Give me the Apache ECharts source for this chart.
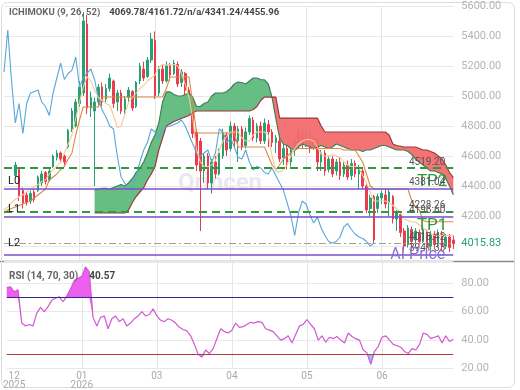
<!DOCTYPE html>
<html>
<head>
<meta charset="utf-8">
<script src="https://cdn.jsdelivr.net/npm/echarts@6.0.0/dist/echarts.min.js"></script>
<style>
html, body { margin: 0; padding: 0; background: #fff; }
#chart { width: 520px; height: 390px; }
</style>
</head>
<body>
<div id="chart"></div>
<script>
// x axis: one slot per session, month labels only at a few slots
const monthTicks = [2, 20, 40, 60, 80, 100]
const monthLabels = ['12\n2025', '01\n2026', '03', '04', '05', '06']

// candles (first 3 slots empty)
const opens = [
  null, null, null, 4470, 4510, 4370, 4340, 4300, 4360, 4370,
  4420, 4490, 4440, 4530, 4590, 4620, 4600, 4660, 4780, 4800,
  4950, 5020, 5480, 4920, 4900, 4960, 5060, 4980, 5050, 5100,
  4960, 5020, 4910, 4990, 5030, 4930, 5100, 5180, 5130, 5240,
  5370, 5020, 5180, 5100, 5200, 5150, 5210, 5090, 5150, 5040,
  4960, 4760, 4700, 4500, 4600, 4420, 4560, 4480, 4600, 4740,
  4650, 4800, 4700, 4780, 4670, 4760, 4840, 4720, 4800, 4700,
  4810, 4760, 4690, 4700, 4590, 4650, 4560, 4640, 4690, 4750,
  4680, 4740, 4660, 4700, 4560, 4620, 4510, 4580, 4500, 4560,
  4480, 4540, 4470, 4550, 4480, 4500, 4400, 4250, 4330, 4250,
  4320, 4340, 4290, 4330, 4180, 4210, 4100, 4010, 4110, 4040,
  4090, 4030, 4100, 4000, 4080, 4020, 4080, 4000, 4060, 4040
]
const closes = [
  null, null, null, 4540, 4330, 4290, 4290, 4350, 4310, 4460,
  4480, 4430, 4500, 4600, 4620, 4580, 4560, 4770, 4900, 4960,
  5060, 5500, 4920, 4990, 4960, 5060, 4960, 5050, 5120, 4950,
  5020, 4900, 4980, 5040, 4920, 5090, 5200, 5120, 5240, 5380,
  5000, 5180, 5100, 5200, 5140, 5220, 5080, 5160, 5040, 4960,
  4750, 4540, 4500, 4600, 4420, 4560, 4480, 4620, 4750, 4640,
  4800, 4700, 4780, 4660, 4760, 4850, 4720, 4800, 4700, 4820,
  4760, 4690, 4720, 4580, 4650, 4560, 4640, 4700, 4760, 4680,
  4740, 4650, 4720, 4560, 4620, 4500, 4580, 4480, 4560, 4470,
  4540, 4460, 4550, 4480, 4520, 4400, 4240, 4320, 4040, 4330,
  4350, 4280, 4360, 4180, 4220, 4090, 4000, 4120, 4030, 4100,
  4030, 4110, 3990, 4080, 4010, 4090, 4000, 4060, 3990, 4015.83
]
const lows = [
  null, null, null, 4450, 4300, 4250, 4270, 4280, 4290, 4360,
  4400, 4410, 4430, 4520, 4570, 4560, 4540, 4650, 4760, 4790,
  4930, 5000, 4880, 4860, 4400, 4940, 4930, 4960, 5030, 4920,
  4900, 4880, 4870, 4950, 4900, 4920, 5080, 5100, 5120, 5220,
  4980, 5000, 5080, 5090, 5100, 5140, 5060, 5060, 5000, 4930,
  4720, 4500, 4100, 4420, 4380, 4350, 4450, 4470, 4580, 4600,
  4630, 4660, 4560, 4640, 4650, 4740, 4700, 4690, 4680, 4680,
  4660, 4660, 4620, 4560, 4540, 4510, 4530, 4600, 4650, 4650,
  4660, 4620, 4640, 4500, 4500, 4470, 4490, 4460, 4470, 4440,
  4460, 4440, 4440, 4460, 4380, 4380, 4220, 4200, 4020, 4220,
  4280, 4250, 4200, 4150, 4100, 4060, 3970, 3990, 4000, 4010,
  4010, 4020, 3960, 3970, 3980, 3990, 3970, 3980, 3960, 3980
]
const highs = [
  null, null, null, 4560, 4520, 4390, 4360, 4370, 4380, 4470,
  4500, 4500, 4520, 4610, 4640, 4630, 4610, 4780, 4920, 4980,
  5100, 5560, 5540, 5030, 4990, 5080, 5090, 5080, 5150, 5110,
  5040, 5040, 5000, 5060, 5040, 5100, 5220, 5230, 5260, 5420,
  5430, 5200, 5210, 5230, 5220, 5240, 5230, 5180, 5160, 5060,
  4980, 4780, 4720, 4620, 4620, 4580, 4600, 4650, 4780, 4760,
  4830, 4820, 4800, 4800, 4790, 4870, 4860, 4820, 4830, 4850,
  4840, 4780, 4740, 4720, 4680, 4680, 4660, 4720, 4780, 4790,
  4770, 4760, 4740, 4720, 4640, 4640, 4600, 4600, 4580, 4590,
  4560, 4570, 4580, 4570, 4540, 4520, 4420, 4340, 4340, 4350,
  4370, 4380, 4380, 4340, 4240, 4230, 4120, 4140, 4130, 4120,
  4110, 4130, 4110, 4100, 4100, 4110, 4100, 4080, 4080, 4070
]

// ichimoku lines
const tenkan = [
  4240, 4260, 4290, 4310, 4330, 4340, 4360, 4380, 4395, 4410,
  4430, 4440, 4480, 4510, 4530, 4560, 4620, 4680, 4740, 4850,
  4960, 5060, 5130, 5100, 5040, 4990, 4970, 4950, 4940, 4870,
  4790, 4800, 4880, 4960, 4990, 5020, 5050, 5070, 5100, 5120,
  5140, 5190, 5210, 5210, 5210, 5210, 5200, 5150, 5080, 4990,
  4850, 4640, 4560, 4530, 4530, 4540, 4570, 4640, 4700, 4730,
  4760, 4760, 4760, 4720, 4700, 4700, 4740, 4760, 4760, 4760,
  4740, 4600, 4500, 4490, 4510, 4540, 4600, 4650, 4680, 4700,
  4710, 4710, 4700, 4660, 4610, 4600, 4600, 4610, 4600, 4590,
  4560, 4540, 4530, 4530, 4520, 4470, 4420, 4360, 4300, 4300,
  4300, 4300, 4290, 4270, 4250, 4220, 4180, 4170, 4160, 4160,
  4140, 4120, 4100, 4080, 4070, 4070, 4070, 4070, 4070, 4069.78
]
const kijun = [
  4220, 4240, 4250, 4260, 4270, 4280, 4290, 4300, 4320, 4340,
  4360, 4380, 4440, 4460, 4480, 4510, 4530, 4580, 4620, 4740,
  4840, 4927, 4927, 4927, 4927, 4927, 4993, 4993, 4993, 4993,
  4993, 4993, 4993, 4993, 4993, 4993, 4993, 4993, 4993, 4993,
  4993, 4993, 4993, 5050, 5127, 5127, 5127, 5127, 5127, 5127,
  4950, 4753, 4753, 4753, 4753, 4753, 4753, 4753, 4753, 4753,
  4753, 4753, 4660, 4660, 4660, 4660, 4660, 4660, 4660, 4660,
  4600, 4540, 4510, 4540, 4580, 4600, 4620, 4640, 4650, 4650,
  4650, 4650, 4650, 4650, 4650, 4650, 4650, 4650, 4650, 4650,
  4640, 4640, 4640, 4640, 4600, 4560, 4480, 4400, 4380, 4380,
  4380, 4380, 4380, 4380, 4380, 4380, 4380, 4380, 4300, 4260,
  4240, 4170, 4161.72, 4161.72, 4161.72, 4161.72, 4161.72, 4161.72, 4161.72, 4161.72
]
const chikou = [
  5160, 5440, 5100, 4820, 4950, 4750, 4950, 5020, 5030, 5040,
  4960, 4930, 4870, 5020, 5120, 5220, 5110, 5150, 5173, 5260,
  5060, 5120, 5153, 5180, 5110, 4980, 4907, 4860, 4800, 4780,
  4600, 4460, 4420, 4373, 4390, 4470, 4560, 4640, 4690, 4780,
  4760, 4727, 4770, 4793, 4800, 4810, 4820, 4840, 4800, 4740,
  4680, 4620, 4600, 4620, 4640, 4560, 4620, 4780, 4760, 4690,
  4720, 4660, 4590, 4580, 4640, 4560, 4507, 4530, 4520, 4490,
  4480, 4520, 4470, 4420, 4373, 4287, 4200, 4070, 4220, 4300,
  4280, 4210, 4153, 4193, 4120, 4070, 4030, 4020, 4030, 4060,
  4127, 4150, 4110, 4080, 4060, 4050, 4030, 4000, 4020
]
const spanA = [
  null, null, null, null, null, null, null, null, null, null,
  null, null, null, null, null, null, null, null, null, null,
  null, null, null, null, 4373, 4380, 4385, 4385, 4380, 4390,
  4400, 4410, 4400, 4420, 4450, 4490, 4520, 4560, 4620, 4690,
  4740, 4820, 4960, 5027, 5027, 5010, 5000, 5000, 5010, 5020,
  4990, 4930, 4930, 4950, 4960, 5000, 5020, 5020, 5020, 5030,
  5050, 5080, 5093, 5090, 5080, 5100, 5120, 5120, 5110, 5107,
  5080, 4990, 4850, 4720, 4680, 4670, 4650, 4640, 4660, 4680,
  4670, 4660, 4650, 4660, 4670, 4660, 4650, 4660, 4680, 4670,
  4660, 4650, 4640, 4640, 4640, 4630, 4640, 4640, 4650, 4660,
  4670, 4670, 4660, 4650, 4640, 4640, 4640, 4630, 4610, 4580,
  4560, 4540, 4520, 4500, 4500, 4490, 4480, 4450, 4400, 4341.24
]
const spanB = [
  null, null, null, null, null, null, null, null, null, null,
  null, null, null, null, null, null, null, null, null, null,
  null, null, null, null, 4220, 4220, 4220, 4220, 4220, 4220,
  4220, 4220, 4220, 4240, 4290, 4330, 4360, 4390, 4440, 4480,
  4530, 4640, 4720, 4800, 4815, 4830, 4840, 4850, 4860, 4870,
  4890, 4900, 4900, 4900, 4900, 4900, 4900, 4900, 4900, 4900,
  4900, 4900, 4900, 4900, 4900, 4900, 4910, 4930, 4970, 4993,
  4993, 4993, 4993, 4853, 4853, 4853, 4853, 4853, 4853, 4853,
  4853, 4853, 4853, 4853, 4800, 4760, 4760, 4760, 4760, 4760,
  4760, 4760, 4760, 4760, 4760, 4760, 4760, 4760, 4760, 4760,
  4760, 4760, 4740, 4680, 4670, 4665, 4660, 4660, 4660, 4660,
  4650, 4640, 4640, 4630, 4620, 4600, 4580, 4540, 4490, 4455.96
]

// rsi
const rsi = [
  77, 77.5, 74, 75.5, 52, 50, 51, 50, 59, 63,
  60, 63.5, 68, 69.5, 70.5, 67, 71, 76, 82, 83.5,
  85, 91.5, 88, 56, 50, 56, 57, 48, 55, 57,
  53, 55, 50, 52, 55, 57, 60, 57, 58, 62,
  57, 54, 53, 55, 54, 52, 49, 47.5, 46.5, 43,
  37, 30, 28, 33, 30.5, 34, 41, 48, 46, 45,
  47, 52, 49, 49.5, 51, 52.5, 52, 53, 52.5, 48,
  47, 46, 43, 40, 41, 43, 38, 44, 50, 51,
  54.5, 51, 48, 40, 43, 38.5, 42, 41, 42.5, 40,
  38, 45, 42.5, 41, 40, 33, 31, 23, 32, 35.5,
  42, 43, 40, 37, 36, 35, 32, 30.5, 34, 33,
  37, 45, 44, 41, 42, 43, 38, 43, 39, 40.57
]
const rsiUpper = 70
const rsiLower = 30

// level lines
const levelNames = ['TP2', 'L0', 'TP1', 'L1', 'L2', 'AI Price']
const levelValues = [4519.20, 4381.04, 4228.26, 4196.60, 4018.42, 3941.33]

const UP = '#26a172'
const DOWN = '#ec3a4f'
const LVL_GREEN = '#2e9a3c'
const LVL_PURPLE = '#7b4fcf'
const NO_LINE = { color: 'rgba(0,0,0,0)', width: 0 }

const n = closes.length
let cats = []
for (let i = 0; i < n; i++) {
  let k = monthTicks.indexOf(i)
  cats.push(k >= 0 ? monthLabels[k] : '')
}
const candles = opens.map((o, i) => o == null ? '-' : [o, closes[i], lows[i], highs[i]])
const cloudBase = spanA.map((a, i) => a == null ? '-' : Math.min(a, spanB[i]))
const cloudUp = spanA.map((a, i) => a == null ? '-' : Math.max(a - spanB[i], 0))
const cloudDown = spanA.map((a, i) => a == null ? '-' : Math.max(spanB[i] - a, 0))
const rsiBaseHi = rsi.map(v => Math.min(v, rsiUpper))
const rsiOver = rsi.map(v => Math.max(v - rsiUpper, 0))
const rsiBaseLo = rsi.map(v => Math.min(v, rsiLower))
const rsiUnder = rsi.map(v => rsiLower - Math.min(v, rsiLower))
const lastClose = closes[n - 1]

// build markLine items for the levels
let levelLines = []
levelNames.forEach((name, i) => {
  let v = levelValues[i]
  let ls = { color: LVL_PURPLE, width: 1.5, type: 'solid' }
  if (name.indexOf('TP') === 0) ls = { color: LVL_GREEN, width: 2, type: [8, 5] }
  if (name === 'L2') ls = { color: '#a0a0a0', width: 1.2, type: [7, 3, 2, 3] }
  levelLines.push({
    yAxis: v,
    lineStyle: ls,
    label: { show: true, position: 'insideEndTop', formatter: v.toFixed(2), color: '#555', fontSize: 10, distance: [8, 1] }
  })
  if (name.indexOf('TP') === 0) {
    levelLines.push({
      yAxis: v,
      lineStyle: NO_LINE,
      label: { show: true, position: 'insideEndBottom', formatter: name, color: LVL_GREEN, fontSize: 17, distance: [6, 5] }
    })
  } else if (name === 'AI Price') {
    levelLines.push({
      yAxis: v,
      lineStyle: NO_LINE,
      label: { show: true, position: 'insideEnd', formatter: name, color: '#8a6fd6', fontSize: 16, distance: [8, 0] }
    })
  } else {
    levelLines.push({
      yAxis: v,
      lineStyle: NO_LINE,
      label: { show: true, position: name === 'L2' ? 'insideStart' : 'insideStartTop', formatter: name, color: '#222', fontSize: 11, distance: [4, 2] }
    })
  }
})
// current price tag on the axis
levelLines.push({
  yAxis: lastClose,
  lineStyle: NO_LINE,
  label: { show: true, position: 'end', formatter: lastClose.toFixed(2), color: UP, fontSize: 11, distance: 8 }
})

const gridLine = { show: true, lineStyle: { color: '#e8e8e8', width: 1 } }
const monthGrid = (i) => monthTicks.indexOf(i) > 0

let option = {
  animation: false,
  textStyle: { fontFamily: 'Roboto, sans-serif' },
  title: [
    {
      text: '{a|ICHIMOKU (9, 26, 52)}{b|' + [tenkan[n - 1], kijun[n - 1]].map(v => v.toFixed(2)).join('/') +
        '/n/a/' + [spanA[n - 1], spanB[n - 1]].map(v => v.toFixed(2)).join('/') + '}',
      left: 9, top: 8, padding: 0,
      textStyle: {
        rich: {
          a: { fontSize: 9.5, color: '#666' },
          b: { fontSize: 9.5, color: '#444', padding: [0, 0, 0, 9] }
        }
      }
    },
    {
      text: '{a|RSI (14, 70, 30)}{b|' + rsi[n - 1].toFixed(2) + '}',
      left: 9, top: 271, padding: 0,
      textStyle: {
        rich: {
          a: { fontSize: 10, color: '#666' },
          b: { fontSize: 10, color: '#444', padding: [0, 0, 0, 11] }
        }
      }
    }
  ],
  grid: [
    { left: 4, right: 66.7, top: 6, height: 255 },
    { left: 4, right: 66.7, top: 262, height: 108 }
  ],
  xAxis: [
    {
      type: 'category', gridIndex: 0, data: cats, boundaryGap: false,
      axisLine: { show: false }, axisTick: { show: false }, axisLabel: { show: false },
      splitLine: { show: true, interval: monthGrid, lineStyle: { color: '#e6e6e6' } }
    },
    {
      type: 'category', gridIndex: 1, data: cats, boundaryGap: false,
      axisLine: { show: false }, axisTick: { show: false },
      axisLabel: {
        show: true, interval: (i) => monthTicks.indexOf(i) >= 0,
        color: '#aaa', fontSize: 10, lineHeight: 9, margin: 3
      },
      splitLine: { show: true, interval: monthGrid, lineStyle: { color: '#e6e6e6' } }
    }
  ],
  yAxis: [
    {
      type: 'value', gridIndex: 0, position: 'right', min: 3900, max: 5600, splitNumber: 8,
      axisLine: { show: false }, axisTick: { show: false },
      axisLabel: {
        showMinLabel: false, color: '#b4b4b4', fontSize: 11, margin: 8,
        formatter: (v) => v === 4000 ? '' : v.toFixed(2)
      },
      splitLine: gridLine
    },
    {
      type: 'value', gridIndex: 1, position: 'right', min: 20, max: 95, interval: 20,
      axisLine: { show: false }, axisTick: { show: false },
      axisLabel: {
        showMaxLabel: false, color: '#b4b4b4', fontSize: 11, margin: 8,
        formatter: (v) => v.toFixed(2)
      },
      splitLine: gridLine
    }
  ],
  graphic: {
    elements: [
      {
        type: 'text', left: 178, top: 172, z: 0, silent: true,
        style: { text: 'Qrincen', fill: '#ebe7f0', fontSize: 24, fontWeight: 'bold', fontFamily: 'Roboto' }
      },
      {
        // rsi pane paints over the bottom of the AI Price tag
        type: 'rect', silent: true,
        shape: { x: 385, y: 262, width: 70, height: 9 },
        style: { fill: '#fff' }
      },
      {
        type: 'line', silent: true,
        shape: { x1: 0, y1: 261.5, x2: 515, y2: 261.5 },
        style: { stroke: '#8a8a8a', lineWidth: 1.5 }
      },
      {
        type: 'rect', silent: true,
        shape: { x: 1.5, y: 2.5, width: 513, height: 385, r: 6 },
        style: { fill: 'none', stroke: '#dddddd', lineWidth: 1 }
      }
    ]
  },
  series: [
    {
      name: 'cloudBase', type: 'line', data: cloudBase, stack: 'cloud', stackStrategy: 'all',
      symbol: 'none', silent: true, lineStyle: { opacity: 0 }
    },
    {
      name: 'cloudUp', type: 'line', data: cloudUp, stack: 'cloud', stackStrategy: 'all',
      symbol: 'none', silent: true, lineStyle: { opacity: 0 },
      areaStyle: { color: '#5fba7d', opacity: 0.95 }
    },
    {
      name: 'cloudDown', type: 'line', data: cloudDown, stack: 'cloud', stackStrategy: 'all',
      symbol: 'none', silent: true, lineStyle: { opacity: 0 },
      areaStyle: { color: '#f36b6e', opacity: 0.95 }
    },
    { name: 'spanA', type: 'line', data: spanA, symbol: 'none', lineStyle: { color: '#3f7f58', width: 1.2 } },
    { name: 'spanB', type: 'line', data: spanB, symbol: 'none', lineStyle: { color: '#9a3a3e', width: 1.2 } },
    { name: 'chikou', type: 'line', data: chikou, symbol: 'none', lineStyle: { color: '#57a7d8', width: 1.1 } },
    { name: 'kijun', type: 'line', data: kijun, symbol: 'none', lineStyle: { color: '#d98a45', width: 1.1 } },
    { name: 'tenkan', type: 'line', data: tenkan, symbol: 'none', lineStyle: { color: '#f5c992', width: 1.1 } },
    {
      name: 'price', type: 'candlestick', data: candles, barWidth: '55%',
      itemStyle: { color: UP, color0: DOWN, borderColor: UP, borderColor0: DOWN, borderWidth: 1 },
      markLine: { silent: true, symbol: ['none', 'none'], animation: false, data: levelLines }
    },
    {
      name: 'rsiBaseHi', type: 'line', xAxisIndex: 1, yAxisIndex: 1, data: rsiBaseHi,
      stack: 'over', stackStrategy: 'all', symbol: 'none', silent: true, lineStyle: { opacity: 0 }
    },
    {
      name: 'rsiOver', type: 'line', xAxisIndex: 1, yAxisIndex: 1, data: rsiOver,
      stack: 'over', stackStrategy: 'all', symbol: 'none', silent: true, lineStyle: { opacity: 0 },
      areaStyle: { color: '#ef5fef', opacity: 1 }
    },
    {
      name: 'rsiBaseLo', type: 'line', xAxisIndex: 1, yAxisIndex: 1, data: rsiBaseLo,
      stack: 'under', stackStrategy: 'all', symbol: 'none', silent: true, lineStyle: { opacity: 0 }
    },
    {
      name: 'rsiUnder', type: 'line', xAxisIndex: 1, yAxisIndex: 1, data: rsiUnder,
      stack: 'under', stackStrategy: 'all', symbol: 'none', silent: true, lineStyle: { opacity: 0 },
      areaStyle: { color: '#7fd0f2', opacity: 1 }
    },
    {
      name: 'rsi', type: 'line', xAxisIndex: 1, yAxisIndex: 1, data: rsi, symbol: 'none',
      lineStyle: { color: '#d257d2', width: 1.2 },
      markLine: {
        silent: true, symbol: ['none', 'none'], label: { show: false },
        data: [
          { yAxis: rsiUpper, lineStyle: { color: '#2b2b8f', width: 1.2, type: 'solid' } },
          { yAxis: rsiLower, lineStyle: { color: '#b53b3b', width: 1.2, type: 'solid' } }
        ]
      }
    }
  ]
}

var myChart = echarts.init(document.getElementById('chart'))
myChart.setOption(option)
</script>
</body>
</html>
